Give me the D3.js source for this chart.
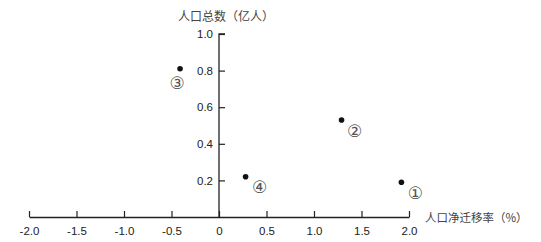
<!DOCTYPE html>
<html>
<head>
<meta charset="utf-8">
<script src="https://cdn.jsdelivr.net/npm/d3@7"></script>
<style>
body { margin: 0; background: #fff; }
svg text { font-family: "Liberation Sans", Arial, sans-serif; }
</style>
</head>
<body>
<div id="chart"></div>
<script>
// data
const labels = ["①", "②", "③", "④"];
const migration = [1.92, 1.29, -0.41, 0.28];
const population = [0.19, 0.53, 0.81, 0.22];
const xTicks = [-2.0, -1.5, -1.0, -0.5, 0, 0.5, 1.0, 1.5, 2.0];
const yTicks = [0.2, 0.4, 0.6, 0.8, 1.0];

const width = 541, height = 242;

const svg = d3.select("#chart").append("svg")
	.attr("width", width)
	.attr("height", height);

const x = d3.scaleLinear().domain([-2, 2]).range([29, 409]);
const y = d3.scaleLinear().domain([0, 1]).range([217, 34]);

// plain hyphen for negatives, like the original
function fmt(d) {
	if (d == 0) return "0";
	return (d < 0 ? "-" : "") + Math.abs(d).toFixed(1);
}

// x axis, ticks point up
const xAxis = svg.append("g")
	.attr("transform", "translate(0," + y(0) + ")")
	.call(d3.axisTop(x).tickValues(xTicks).tickSize(6).tickSizeOuter(0).tickFormat(fmt));
xAxis.select(".domain").attr("stroke", "#222").attr("stroke-width", 1.3);
xAxis.selectAll(".tick line").attr("stroke", "#222").attr("stroke-width", 1.2);
xAxis.selectAll(".tick text")
	.attr("y", 14).attr("dy", "0.32em")
	.attr("font-size", 11.5).attr("fill", "#222");

// y axis, ticks point right, labels on the left
const yAxis = svg.append("g")
	.attr("transform", "translate(" + x(0) + ",0)")
	.call(d3.axisRight(y).tickValues(yTicks).tickSize(6).tickSizeOuter(0).tickFormat(fmt));
yAxis.select(".domain").attr("stroke", "#222").attr("stroke-width", 1.3)
	.attr("d", "M0," + y(0) + "V" + y(1) + "h6");
yAxis.selectAll(".tick line").attr("stroke", "#222").attr("stroke-width", 1.2);
yAxis.selectAll(".tick text")
	.attr("x", -6).attr("text-anchor", "end")
	.attr("font-size", 11.5).attr("fill", "#222");

// axis titles
svg.append("text")
	.attr("x", 226).attr("y", 17).attr("dy", "0.35em")
	.attr("text-anchor", "middle")
	.attr("font-size", 12).attr("fill", "#444")
	.style("font-family", "'Noto Sans CJK SC', sans-serif")
	.text("人口总数（亿人）");

svg.append("text")
	.attr("x", 425).attr("y", 218).attr("dy", "0.35em")
	.attr("font-size", 11.5).attr("fill", "#444")
	.style("font-family", "'Noto Sans CJK SC', sans-serif")
	.text("人口净迁移率（%）");

// points
const data = labels.map(function(d, i) {
	return {label: d, mx: migration[i], pop: population[i]};
});

svg.selectAll("circle.pt")
	.data(data)
	.enter().append("circle")
	.attr("class", "pt")
	.attr("cx", function(d) { return x(d.mx); })
	.attr("cy", function(d) { return y(d.pop); })
	.attr("r", 2.8)
	.attr("fill", "#111");

// circled number labels
const offsets = {"①": [14, 11], "②": [13, 11], "③": [-3, 14], "④": [14, 10]};
svg.selectAll("text.lbl")
	.data(data)
	.enter().append("text")
	.attr("class", "lbl")
	.attr("x", function(d) { return x(d.mx) + offsets[d.label][0]; })
	.attr("y", function(d) { return y(d.pop) + offsets[d.label][1]; })
	.attr("dy", "0.35em")
	.attr("text-anchor", "middle")
	.attr("font-size", 17).attr("fill", "#555")
	.style("font-family", "'DejaVu Sans', sans-serif")
	.text(function(d) { return d.label; });
</script>
</body>
</html>
